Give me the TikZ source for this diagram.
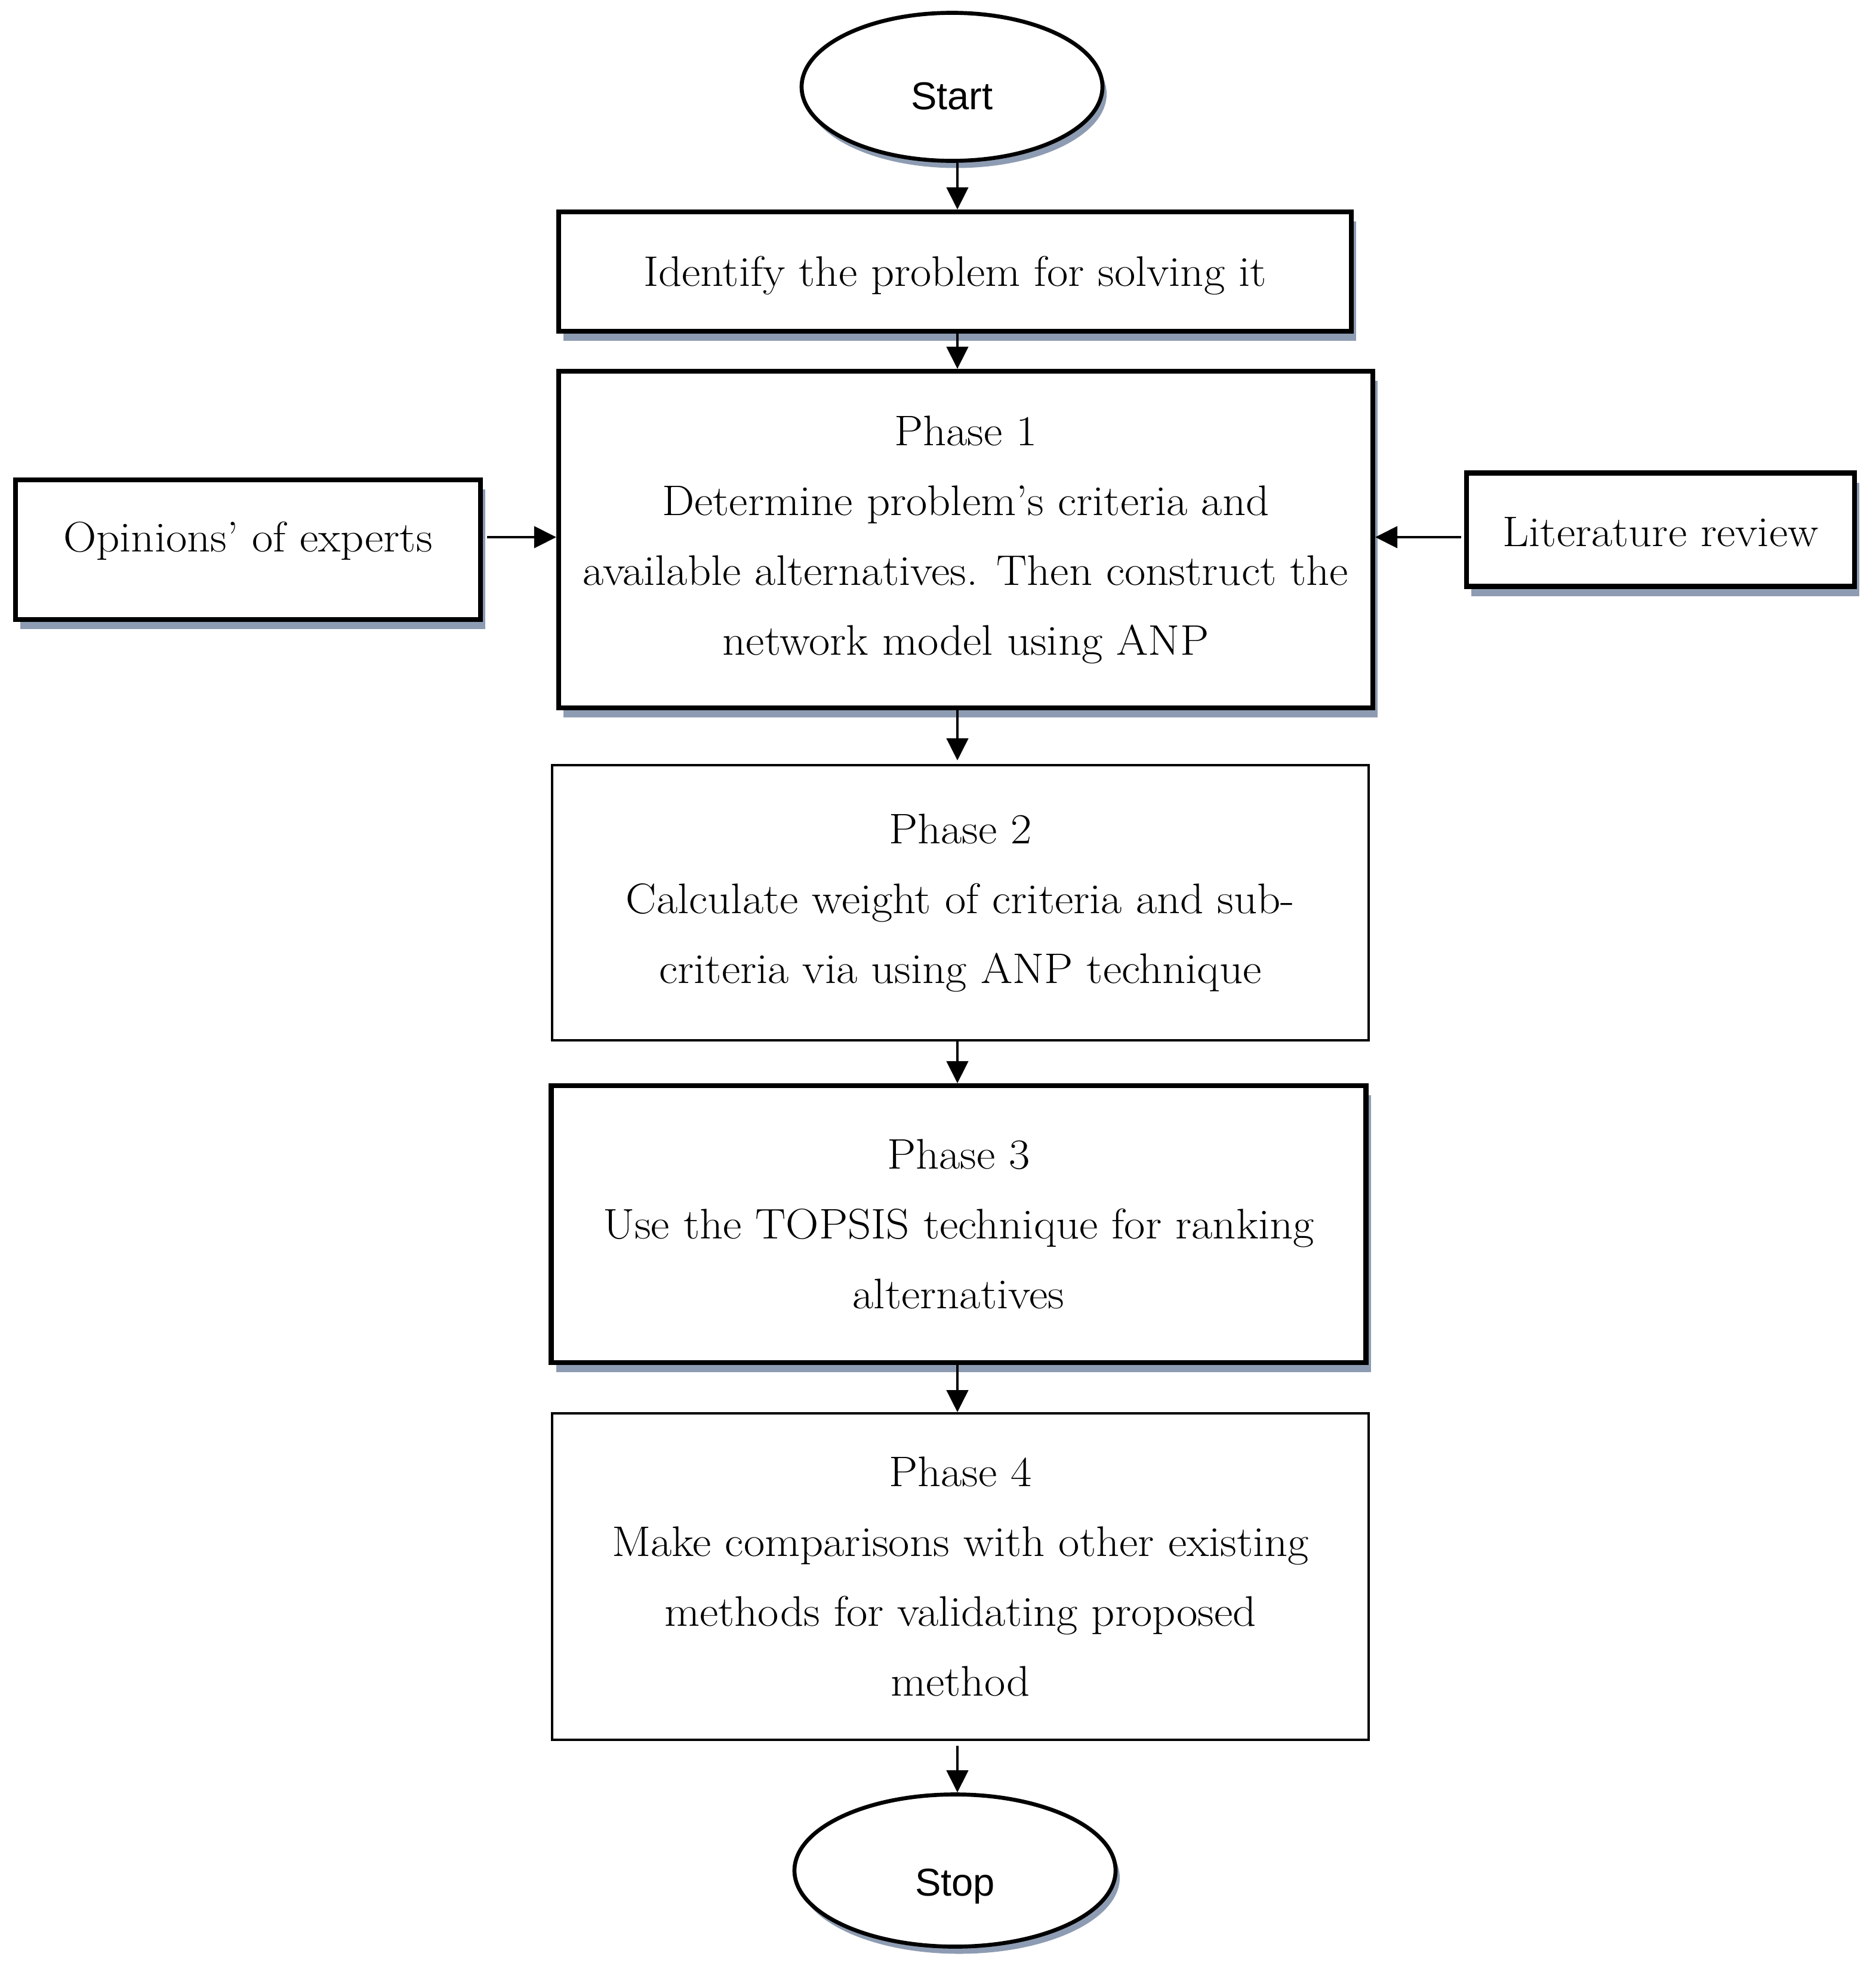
\documentclass[tikz,border=0pt]{standalone}
\usepackage{fontspec}
\setmainfont{Latin Modern Roman}[FakeStretch=1.07]
\newfontfamily\ovalfont{Liberation Sans}
\usetikzlibrary{shapes.geometric,shadows,arrows.meta}
\definecolor{shadowc}{RGB}{141,156,178}
\begin{document}
\begin{tikzpicture}[
  txt/.style={font=\fontsize{20.4pt}{33.3pt}\selectfont, align=center, inner sep=0pt},
  thickbox/.style={txt, rectangle, draw, line width=2.3pt, fill=white,
    drop shadow={shadow xshift=0.08cm, shadow yshift=-0.16cm, fill=shadowc, opacity=1}},
  thinbox/.style={txt, rectangle, draw, line width=1.1pt, fill=white},
  oval/.style={ellipse, draw, line width=1.9pt, fill=white, inner sep=0pt,
    font=\ovalfont\fontsize{18.5pt}{22pt}\selectfont,
    drop shadow={shadow xshift=0.07cm, shadow yshift=-0.12cm, fill=shadowc, opacity=1}},
  arr/.style={line width=1.3pt, -{Triangle[length=0.37cm,width=0.36cm]}}
]
\useasboundingbox (0,0) rectangle (31.42,-32.99);

\node[oval, minimum width=5.04cm, minimum height=2.48cm, text height=0.76cm, text depth=0cm] (start) at (15.95,-1.455) {Start};
\node[thickbox, minimum width=13.28cm, minimum height=2.0cm, text height=0.6cm, text depth=0.12cm] (ident) at (16.0,-4.55) {Identify the problem for solving it};
\node[thickbox, minimum width=13.64cm, minimum height=5.64cm] (p1) at (16.18,-9.04)
  {Phase 1\\Determine problem's criteria and\\available alternatives. Then construct the\\network model using ANP};
\node[thickbox, minimum width=7.79cm, minimum height=2.34cm, text height=0.5cm, text depth=0.44cm] (opin) at (4.155,-9.21) {Opinions' of experts};
\node[thickbox, minimum width=6.5cm, minimum height=1.9cm, text height=0.7cm, text depth=0.14cm] (lit) at (27.82,-8.875) {Literature review};
\node[thinbox, minimum width=13.68cm, minimum height=4.61cm] (p2) at (16.09,-15.125)
  {Phase 2\\Calculate weight of criteria and sub-\\criteria via using ANP technique};
\node[thickbox, minimum width=13.65cm, minimum height=4.64cm] (p3) at (16.06,-20.51)
  {Phase 3\\Use the TOPSIS technique for ranking\\alternatives};
\node[thinbox, minimum width=13.68cm, minimum height=5.47cm] (p4) at (16.09,-26.415)
  {Phase 4\\Make comparisons with other existing\\methods for validating proposed\\method};
\node[oval, minimum width=5.38cm, minimum height=2.55cm, text height=0.84cm, text depth=0cm] (stop) at (16.0,-31.34) {Stop};

\coordinate (ax) at (16.04,0);
\coordinate (ay) at (0,-9.0);

\draw[arr] (ax |- start.south) -- (ax |- ident.north);
\draw[arr] (ax |- ident.south) -- (ax |- p1.north);
\draw[arr] (ax |- p1.south) -- ([yshift=0.06cm]ax |- p2.north);
\draw[arr] (ax |- p2.south) -- (ax |- p3.north);
\draw[arr] (ax |- p3.south) -- (ax |- p4.north);
\draw[arr, shorten <=0.08cm] (ax |- p4.south) -- (ax |- stop.north);
\draw[arr, shorten <=0.07cm] (opin.east |- ay) -- (p1.west |- ay);
\draw[arr, shorten <=0.05cm] (lit.west |- ay) -- (p1.east |- ay);
\end{tikzpicture}
\end{document}
